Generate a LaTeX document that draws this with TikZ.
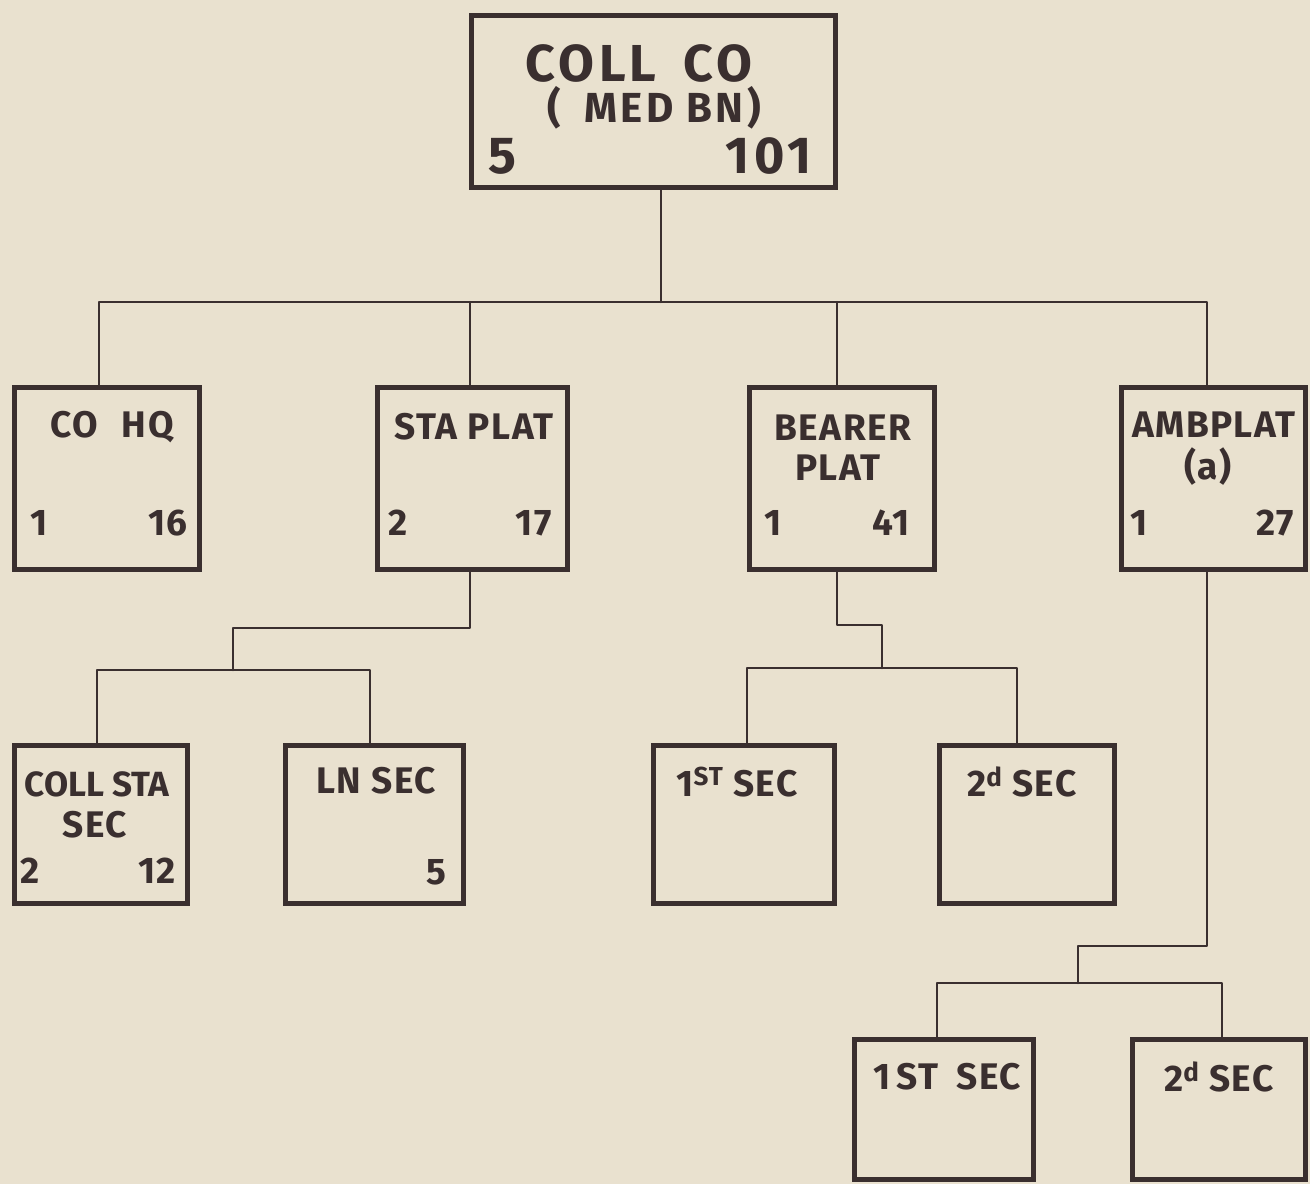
\documentclass[tikz,border=0pt]{standalone}
\usepackage{fontspec}
\setmainfont{Fira Sans}[LetterSpace=4]
\definecolor{paper}{HTML}{E9E1CF}
\definecolor{ink}{HTML}{3A2F2F}
\tikzset{
  box/.style={draw=ink, line width=5.5pt, rectangle, inner sep=0pt, outer sep=0pt},
  wire/.style={draw=ink, line width=2.5pt, line cap=round, line join=round},
  lab/.style={text=ink, inner sep=0pt, font=\bfseries\fontsize{37}{44}\selectfont},
  big/.style={text=ink, inner sep=0pt, font=\bfseries\fontsize{52}{58}\selectfont\addfontfeatures{LetterSpace=8}},
  mid/.style={text=ink, inner sep=0pt, font=\bfseries\fontsize{42}{48}\selectfont\addfontfeatures{LetterSpace=8}},
}
\newcommand{\sps}[1]{\raisebox{0.55ex}{\fontsize{26}{28}\selectfont #1}}
\begin{document}
\begin{tikzpicture}[x=1pt,y=-1pt]
\fill[paper] (0,0) rectangle (1310,1184);
\useasboundingbox (0,0) rectangle (1310,1184);

% boxes
\node[box, minimum width=364pt, minimum height=172pt] (top) at (653.5,101.5) {};
\node[box, minimum width=185pt, minimum height=182pt] (cohq) at (107,478.5) {};
\node[box, minimum width=190pt, minimum height=182pt] (sta) at (472.5,478.5) {};
\node[box, minimum width=185pt, minimum height=182pt] (bear) at (842,478.5) {};
\node[box, minimum width=184pt, minimum height=182pt] (amb) at (1213.5,478.5) {};
\node[box, minimum width=173pt, minimum height=158pt] (coll) at (101,824.5) {};
\node[box, minimum width=178pt, minimum height=158pt] (ln) at (374.5,824.5) {};
\node[box, minimum width=181pt, minimum height=158pt] (s1) at (744,824.5) {};
\node[box, minimum width=175pt, minimum height=158pt] (s2) at (1027,824.5) {};
\node[box, minimum width=179pt, minimum height=140pt] (a1) at (944,1109.5) {};
\node[box, minimum width=173pt, minimum height=140pt] (a2) at (1219,1109.5) {};

% junction coordinates
\coordinate (trunk) at (661,302);
\coordinate (bL) at (99,302);
\coordinate (bS) at (470,302);
\coordinate (bB) at (837,302);
\coordinate (bR) at (1207,302);
\coordinate (sJ) at (233,628);
\coordinate (sL) at (97,670);
\coordinate (sR) at (370,670);
\coordinate (eJ) at (882,625);
\coordinate (eL) at (747,668);
\coordinate (eR) at (1017,668);
\coordinate (aJ) at (1078,946);
\coordinate (aL) at (937,983);
\coordinate (aR) at (1222,983);

% connectors
\draw[wire] (top.south -| trunk) -- (trunk);
\draw[wire] (bL |- cohq.north) -- (bL) -- (bR) -- (bR |- amb.north);
\draw[wire] (bS) -- (bS |- sta.north);
\draw[wire] (bB) -- (bB |- bear.north);
\draw[wire] (sta.south -| bS) |- (sJ) -- (sJ |- sL);
\draw[wire] (sL |- coll.north) -- (sL) -- (sR) -- (sR |- ln.north);
\draw[wire] (bear.south -| bB) |- (eJ) -- (eJ |- eL);
\draw[wire] (eL |- s1.north) -- (eL) -- (eR) -- (eR |- s2.north);
\draw[wire] (amb.south -| bR) |- (aJ) -- (aJ |- aL);
\draw[wire] (aL |- a1.north) -- (aL) -- (aR) -- (aR |- a2.north);

% texts: top
\node[big] (t1) at (639,63) {COLL\hspace{10pt} CO};
\node[mid] (t2) at (654,108) {(\hspace{10pt} MED BN)};
\node[big, anchor=west] (t3) at (488,156) {5};
\node[big, anchor=east] (t4) at (812,156) {101};

% level 2
\node[lab] (c1) at (112,427) {CO\hspace{24pt}HQ};
\node[lab, anchor=west] (c2) at (30,523) {1};
\node[lab, anchor=east] (c3) at (188,523) {16};

\node[lab] (p1) at (474,427) {STA PLAT};
\node[lab, anchor=west] (p2) at (388,523) {2};
\node[lab, anchor=east] (p3) at (552,523) {17};

\node[lab] (r1) at (843,428) {BEARER};
\node[lab] (r2) at (838,468) {PLAT};
\node[lab, anchor=west] (r3) at (764,523) {1};
\node[lab, anchor=east] (r4) at (910,523) {41};

\node[lab] (m1) at (1214,425) {AMBPLAT};
\node[lab] (m2) at (1208,467) {(a)};
\node[lab, anchor=west] (m3) at (1130,523) {1};
\node[lab, anchor=east] (m4) at (1294,523) {27};

% level 3
\node[lab, font=\bfseries\fontsize{35}{40}\selectfont\addfontfeatures{LetterSpace=0}] (k1) at (97,784) {COLL STA};
\node[lab] (k2) at (95,825) {SEC};
\node[lab, anchor=west] (k3) at (20,871) {2};
\node[lab, anchor=east] (k4) at (176,871) {12};

\node[lab] (n1) at (376,781) {LN SEC};
\node[lab, anchor=east] (n2) at (447,872) {5};

\node[lab] (f1) at (737,782) {1\sps{ST} SEC};
\node[lab] (g1) at (1022,782) {2\sps{d} SEC};

% level 4
\node[lab] (h1) at (947,1077) {1\,ST\hspace{18pt}SEC};
\node[lab] (h2) at (1219,1077) {2\sps{d} SEC};
\end{tikzpicture}
\end{document}
